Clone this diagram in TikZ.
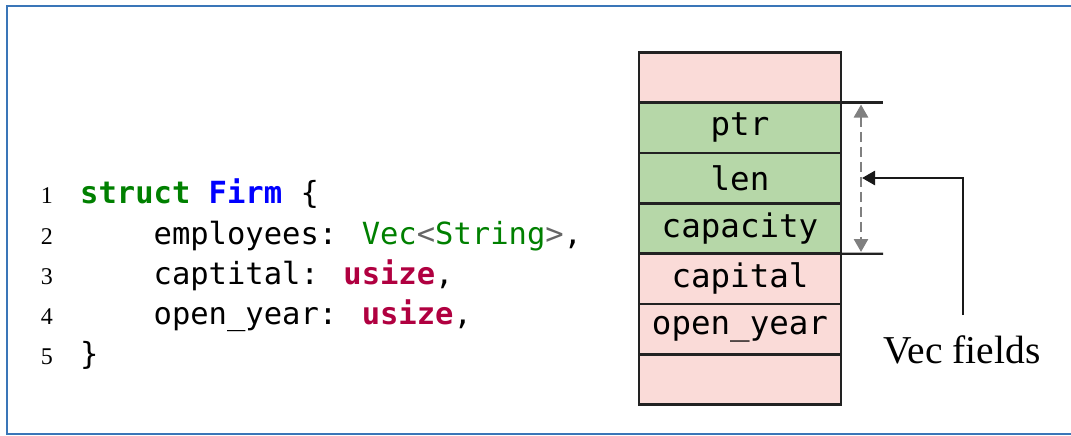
\documentclass[tikz,border=0pt]{standalone}
\usepackage{fontspec}
\setmainfont{Liberation Serif}
\newfontfamily\codefont{DejaVu Sans Mono}
\usetikzlibrary{arrows.meta}
\definecolor{framecol}{RGB}{58,118,184}
\definecolor{kwgreen}{RGB}{0,128,0}
\definecolor{clsblue}{RGB}{0,0,255}
\definecolor{typered}{RGB}{176,0,64}
\definecolor{opgray}{RGB}{102,102,102}
\definecolor{cellpink}{RGB}{250,219,216}
\definecolor{cellgreen}{RGB}{182,215,168}
\definecolor{celledge}{RGB}{34,34,34}
\definecolor{dashgray}{RGB}{128,128,128}
\tikzset{
  codeline/.style={anchor=base west, inner sep=0pt, font=\codefont\fontsize{30.5}{36}\selectfont},
  lineno/.style={anchor=base east, inner sep=0pt, font=\fontsize{24}{27}\selectfont},
  cell/.style={draw=celledge, line width=2.6pt, minimum width=202pt, minimum height=50.35pt, inner sep=0pt, outer sep=0pt, anchor=north west, font=\codefont\fontsize{32.5}{38}\selectfont},
  pinkcell/.style={cell, fill=cellpink},
  greencell/.style={cell, fill=cellgreen},
  extline/.style={draw=celledge, line width=2.4pt},
}
\begin{document}
\begin{tikzpicture}[x=1pt,y=-1pt]
\useasboundingbox (0,0) rectangle (1071,436);
\draw[framecol, line width=2.4pt] (1090,6) -- (7,6) -- (7,434) -- (1090,434);
% code
\node[lineno] (n1) at (53,203) {1};
\node[lineno] (n2) at (53,244) {2};
\node[lineno] (n3) at (53,284) {3};
\node[lineno] (n4) at (53,324) {4};
\node[lineno] (n5) at (53,364) {5};
\node[codeline] (c1) at (80,203) {\textcolor{kwgreen}{\bfseries struct} \textcolor{clsblue}{\bfseries Firm} \{};
\node[codeline] (c2) at (80,244) {\hphantom{xxxx}employees: \textcolor{kwgreen}{Vec}\textcolor{opgray}{<}\textcolor{kwgreen}{String}\textcolor{opgray}{>},};
\node[codeline] (c3) at (80,284) {\hphantom{xxxx}captital: \textcolor{typered}{\bfseries usize},};
\node[codeline] (c4) at (80,324) {\hphantom{xxxx}open\_year: \textcolor{typered}{\bfseries usize},};
\node[codeline] (c5) at (80,364) {\}};
% memory cells
\node[pinkcell]  (top)  at (639,52.3)   {};
\node[greencell] (ptr)  at (639,102.65) {ptr};
\node[greencell] (len)  at (639,153.0)  {len};
\node[greencell] (cap)  at (639,203.35) {capacity};
\node[pinkcell]  (capl) at (639,253.7)  {capital};
\node[pinkcell]  (oy)   at (639,304.05) {open\_year};
\node[pinkcell]  (bot)  at (639,354.4)  {};
% extension lines
\coordinate (e1) at (883,102.65);
\coordinate (e2) at (883,253.7);
\draw[extline] (ptr.north east) -- (e1);
\draw[extline] (cap.south east) -- (e2);
% dashed span arrow
\coordinate (d1) at (861,104.5);
\coordinate (d2) at (861,252);
\draw[dashgray, line width=2.6pt, dash pattern=on 10pt off 5pt, {Triangle[length=13pt,width=14pt]}-{Triangle[length=13pt,width=14pt]}] (d1) -- (d2);
% label and pointer
\node[anchor=base, inner sep=0pt, font=\fontsize{39.5}{44}\selectfont] (vf) at (962,363) {Vec fields};
\coordinate (vs) at (963,315);
\coordinate (tip) at (862,178);
\draw[black!90, line width=2.6pt, -{Triangle[length=13pt,width=14pt]}] (vs) |- (tip);
\end{tikzpicture}
\end{document}
